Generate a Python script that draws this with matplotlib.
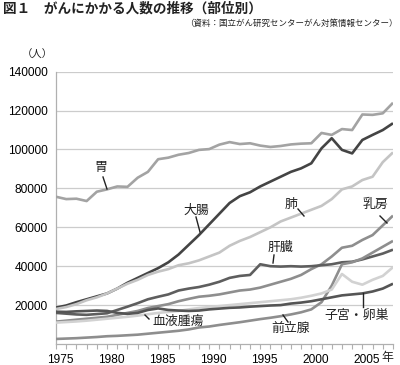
import matplotlib
matplotlib.use("Agg")
import matplotlib.pyplot as plt
import matplotlib.transforms as mtransforms

years = list(range(1975, 2009))

stomach = [75.7, 74.5, 74.7, 73.5, 78.3, 79.5, 81.0, 80.8, 85.5, 88.5, 95.0, 95.8, 97.3, 98.2, 99.8,
           100.2, 102.5, 103.8, 102.8, 103.2, 102.0, 101.3, 101.8, 102.6, 103.0, 103.2, 108.5, 107.5,
           110.5, 110.0, 118.0, 117.8, 118.6, 124.0]
colon = [18.7, 19.8, 21.5, 23.0, 24.5, 26.0, 28.5, 31.5, 34.0, 36.5, 39.0, 42.0, 46.0, 51.0, 56.0,
         61.5, 67.0, 72.5, 76.0, 78.0, 81.0, 83.5, 86.0, 88.5, 90.3, 92.9, 100.6, 105.8, 99.8, 98.0,
         104.9, 107.5, 110.0, 113.5]
lung = [18.0, 19.0, 20.5, 22.5, 24.0, 26.0, 28.5, 31.0, 33.0, 35.5, 37.2, 38.5, 40.5, 41.5, 43.0,
        45.0, 47.0, 50.5, 53.0, 55.0, 57.5, 60.0, 63.0, 65.0, 67.0, 69.0, 71.0, 74.5, 79.5, 81.0,
        84.3, 86.0, 93.5, 98.5]
breast = [11.5, 12.0, 12.5, 13.0, 13.5, 14.0, 15.0, 16.0, 17.0, 18.5, 19.5, 20.5, 22.0, 23.2, 24.3,
          24.8, 25.5, 26.5, 27.5, 28.0, 29.0, 30.5, 32.0, 33.5, 35.5, 38.5, 41.0, 45.0, 49.5, 50.5,
          53.5, 56.0, 61.0, 66.0]
liver = [16.0, 15.6, 15.2, 15.0, 15.4, 15.8, 17.5, 19.2, 21.0, 23.0, 24.3, 25.5, 27.5, 28.5, 29.3,
         30.5, 32.0, 34.0, 35.0, 35.5, 41.0, 40.0, 39.8, 40.0, 39.8, 40.0, 40.5, 41.0, 42.0, 42.3,
         43.5, 45.0, 46.5, 48.5]
prostate = [2.6, 2.8, 3.0, 3.3, 3.6, 4.0, 4.2, 4.5, 4.8, 5.3, 5.8, 6.3, 6.8, 7.5, 8.5,
            9.0, 9.8, 10.5, 11.2, 12.0, 12.8, 13.5, 14.3, 15.2, 16.3, 17.8, 21.5, 30.0, 41.0, 42.0,
            44.0, 47.0, 50.0, 53.0]
blood = [11.0, 11.3, 11.6, 12.0, 12.5, 13.0, 13.5, 14.0, 14.6, 15.3, 16.0, 16.5, 17.0, 17.8, 18.5,
         19.0, 19.5, 20.0, 20.5, 21.0, 21.5, 22.0, 22.5, 23.0, 23.8, 24.8, 26.0, 28.0, 36.0, 32.0,
         30.5, 33.0, 35.0, 39.5]
uterus = [16.6, 16.5, 16.8, 17.0, 17.2, 17.0, 16.0, 15.5, 16.0, 17.5, 18.3, 17.5, 17.2, 17.0, 17.2,
          17.8, 18.2, 18.6, 18.8, 19.2, 19.5, 19.8, 20.0, 20.8, 21.3, 22.0, 23.0, 24.0, 25.0, 25.5,
          26.0, 27.0, 28.5, 31.0]

series = [
    ("胃", stomach, "#a3a3a3"),
    ("大腸", colon, "#444444"),
    ("肺", lung, "#c4c4c4"),
    ("乳房", breast, "#8e8e8e"),
    ("肝臓", liver, "#5e5e5e"),
    ("前立腺", prostate, "#8e8e8e"),
    ("血液腫瘍", blood, "#d2d2d2"),
    ("子宮・卵巣", uterus, "#555555"),
]

tick_years = [1975, 1980, 1985, 1990, 1995, 2000, 2005]
y_ticks = [20000, 40000, 60000, 80000, 100000, 120000, 140000]

cjk = ["Noto Sans CJK JP", "DejaVu Sans"]
num = ["Liberation Sans", "DejaVu Sans"]

fig = plt.figure(figsize=(4.0, 3.65), dpi=100)
ax = fig.add_axes([0.14, 0.0575, 0.8425, 0.7461])

for name, vals, col in series:
    ax.plot(years, [v * 1000 for v in vals], color=col, lw=1.9, solid_joinstyle="round",
            solid_capstyle="butt", zorder=3)

ax.set_xlim(1975, 2008)
ax.set_ylim(0, 140000)
ax.set_yticks(y_ticks)
ax.set_yticklabels([str(v) for v in y_ticks], fontfamily=num, fontsize=8.6)
ax.tick_params(axis="y", length=0, pad=6)
ax.set_xticks(years, minor=True)
ax.set_xticks(tick_years)
ax.set_xticklabels([str(v) for v in tick_years], fontfamily=num, fontsize=8.6)
ax.tick_params(axis="x", which="both", length=3.5, width=0.8, color="#b0b0b0", pad=3.5, direction="out")
offset = mtransforms.ScaledTranslation(4 / 100, 0, fig.dpi_scale_trans)
for lab in ax.get_xticklabels():
    lab.set_transform(lab.get_transform() + offset)

ax.grid(axis="y", color="#cccccc", lw=0.9, zorder=0)
for s in ["top", "right"]:
    ax.spines[s].set_visible(False)
for s in ["left", "bottom"]:
    ax.spines[s].set_color("#b0b0b0")
    ax.spines[s].set_linewidth(0.9)

# title texts
fig.text(3 / 400, 1 - 9 / 365, "図１　がんにかかる人数の推移（部位別）", fontfamily=cjk, fontsize=9.8,
         fontweight="bold", va="center", ha="left", color="#222222")
fig.text(398 / 400, 1 - 23 / 365, "（資料：国立がん研究センターがん対策情報センター）", fontfamily=cjk,
         fontsize=6.1, va="center", ha="right", color="#222222")
fig.text(37 / 400, 1 - 55 / 365, "（人）", fontfamily=cjk, fontsize=7.5, va="center", ha="center",
         color="#222222")
fig.text(387 / 400, 1 - 357 / 365, "年", fontfamily=cjk, fontsize=8.6, va="center", ha="center",
         color="#222222")

# series labels with leader lines (in pixel coordinates of the figure)
def px(x, y):
    return (x / 400, 1 - y / 365)

labels = [
    ("胃", (101, 168), [(103, 177), (107, 189)]),
    ("大腸", (196, 210), [(196, 217), (200, 232)]),
    ("肺", (291, 204), [(298, 209), (304, 216)]),
    ("乳房", (375, 204), [(380, 216), (387, 223)]),
    ("肝臓", (280, 247), [(274, 255), (273, 263)]),
    ("血液腫瘍", (178, 321), [(145, 315), (149, 319)]),
    ("前立腺", (291, 328), [(283, 315), (288, 322)]),
    ("子宮・卵巣", (357, 315), [(363, 293), (363, 307)]),
]
for text, (tx, ty), pts in labels:
    fig.text(*px(tx, ty), text, fontfamily=cjk, fontsize=9.3, ha="center", va="center", color="#222222",
             zorder=5)
    (x0, y0), (x1, y1) = pts
    fig.add_artist(plt.Line2D([x0 / 400, x1 / 400], [1 - y0 / 365, 1 - y1 / 365], color="#222222",
                              lw=1.0, transform=fig.transFigure))

fig.savefig("out.png", dpi=100)
